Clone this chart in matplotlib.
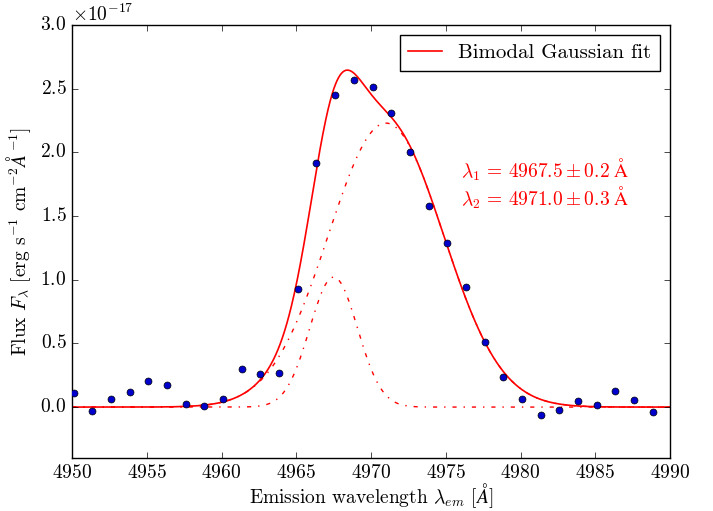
import numpy as np
import matplotlib
matplotlib.use('Agg')
from matplotlib import pyplot as plt

# Observed spectrum (flux in units of 1e-17 erg/s/cm^2/A)
wavelength = [4950.1, 4951.35, 4952.6, 4953.85, 4955.1, 4956.35, 4957.6, 4958.85,
              4960.1, 4961.35, 4962.6, 4963.85, 4965.1, 4966.35, 4967.6, 4968.85,
              4970.1, 4971.35, 4972.6, 4973.85, 4975.1, 4976.35, 4977.6, 4978.85,
              4980.1, 4981.35, 4982.6, 4983.85, 4985.1, 4986.35, 4987.6, 4988.85]
flux = [0.108, -0.029, 0.063, 0.115, 0.206, 0.175, 0.021, 0.008,
        0.065, 0.296, 0.261, 0.269, 0.929, 1.918, 2.454, 2.569,
        2.517, 2.310, 2.002, 1.580, 1.290, 0.940, 0.508, 0.233,
        0.065, -0.063, -0.026, 0.047, 0.016, 0.128, 0.055, -0.042]

# Fitted components: centre, amplitude, sigma
centres = [4967.5, 4971.0]
amplitudes = [1.02, 2.23]
sigmas = [1.6, 3.85]
centre_errors = [0.2, 0.3]

scale = 1e-17

plt.style.use('classic')
plt.rcParams['font.family'] = 'serif'
plt.rcParams['font.serif'] = ['cmr10']
plt.rcParams['mathtext.fontset'] = 'cm'
plt.rcParams['axes.formatter.use_mathtext'] = True
plt.rcParams['font.size'] = 14

fig = plt.figure(figsize=(7.13, 5.11), dpi=100, facecolor='white')
ax = fig.add_axes([0.101, 0.1037, 0.8387, 0.8473])

x = np.linspace(4950, 4990, 800)
components = [a * np.exp(-(x - c) ** 2 / (2 * s ** 2))
              for c, a, s in zip(centres, amplitudes, sigmas)]

ax.plot(wavelength, np.array(flux) * scale, 'o', color='#0000cc',
        markeredgecolor='black', markersize=5, zorder=3)
ax.plot(x, sum(components) * scale, '-', color='red', lw=1.2,
        label='Bimodal Gaussian fit')
for comp in components:
    ax.plot(x, comp * scale, '-.', color='red', lw=1)

for i, (c, e) in enumerate(zip(centres, centre_errors)):
    ax.text(4976.0, (1.86 - 0.22 * i) * scale,
            r'$\lambda_%d \,=\, %.1f \pm %.1f\;\mathrm{\AA}$' % (i + 1, c, e),
            color='red', fontsize=14, va='center')

ax.set_xlim(4950, 4990)
ax.set_ylim(-0.4 * scale, 3.0 * scale)
ax.set_xticks(np.arange(4950, 4991, 5))
ax.set_yticks(np.arange(0, 3.01, 0.5) * scale)
ax.ticklabel_format(axis='x', useOffset=False, style='plain')
ax.set_xlabel(r'Emission wavelength $\lambda_{em}$ [$\AA$]', labelpad=0)
ax.set_ylabel(r'Flux $F_\lambda$ [erg s$^{-1}$ cm$^{-2}$$\AA^{-1}$]')
ax.legend(loc='upper right', fontsize=15, handlelength=1.6, numpoints=1)

fig.savefig('out.png', dpi=100, facecolor='white')
